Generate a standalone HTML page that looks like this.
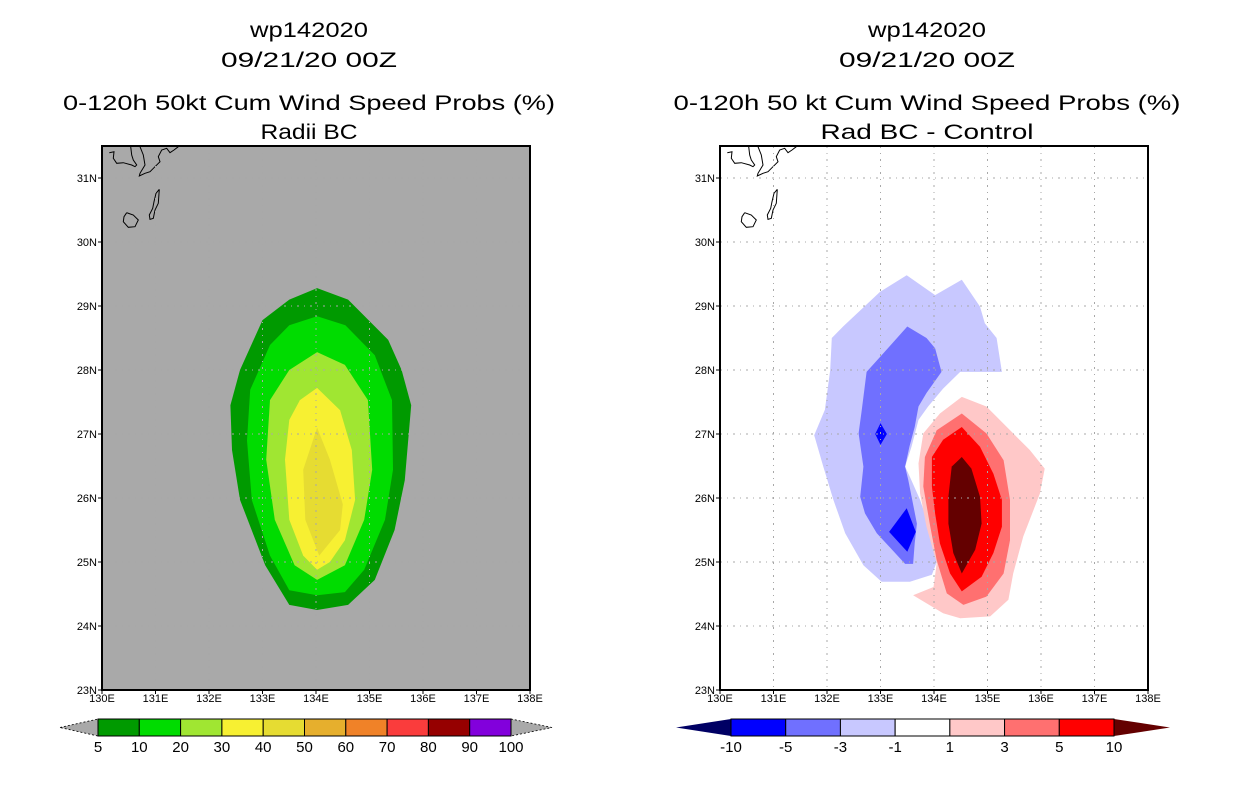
<!DOCTYPE html>
<html><head><meta charset="utf-8"><style>
html,body{margin:0;padding:0;background:#fff;}
svg{display:block;}
.t{font-family:"Liberation Sans",sans-serif;fill:#000;}
</style></head><body>
<svg id="s" width="1236" height="800" viewBox="0 0 1236 800" xmlns="http://www.w3.org/2000/svg">
<g>
<text class="t" x="309" y="37" font-size="21" text-anchor="middle" textLength="118" lengthAdjust="spacingAndGlyphs">wp142020</text>
<text class="t" x="309" y="67" font-size="21" text-anchor="middle" textLength="176" lengthAdjust="spacingAndGlyphs">09/21/20 00Z</text>
<text class="t" x="309" y="110" font-size="21" text-anchor="middle" textLength="492" lengthAdjust="spacingAndGlyphs">0-120h 50kt Cum Wind Speed Probs (%)</text>
<text class="t" x="309" y="139" font-size="21" text-anchor="middle" textLength="97" lengthAdjust="spacingAndGlyphs">Radii BC</text>
</g>
<g>
<text class="t" x="927" y="37" font-size="21" text-anchor="middle" textLength="118" lengthAdjust="spacingAndGlyphs">wp142020</text>
<text class="t" x="927" y="67" font-size="21" text-anchor="middle" textLength="176" lengthAdjust="spacingAndGlyphs">09/21/20 00Z</text>
<text class="t" x="927" y="110" font-size="21" text-anchor="middle" textLength="507" lengthAdjust="spacingAndGlyphs">0-120h 50 kt Cum Wind Speed Probs (%)</text>
<text class="t" x="927" y="139" font-size="21" text-anchor="middle" textLength="213" lengthAdjust="spacingAndGlyphs">Rad BC - Control</text>
</g>
</svg>
<script>
// axis ticks
const lonTicks=[130,131,132,133,134,135,136,137,138];
const latTicks=[23,24,25,26,27,28,29,30,31];
// left panel contour bands (lon,lat)
const p5=[[134.02,29.28],[134.6,29.1],[135.35,28.47],[135.6,28],[135.78,27.45],[135.66,26.28],[135.47,25.5],[135.1,24.72],[134.6,24.33],[134.02,24.25],[133.5,24.33],[133.05,24.95],[132.58,25.97],[132.43,26.75],[132.4,27.45],[132.58,28],[133,28.78],[133.5,29.1]];
const p10=[[134.02,28.84],[134.55,28.7],[135.1,28.23],[135.42,27.53],[135.44,26.44],[135.29,25.66],[134.9,24.88],[134.54,24.53],[134.02,24.48],[133.5,24.56],[133.14,25.1],[132.8,25.97],[132.71,26.9],[132.77,27.69],[133.14,28.39],[133.5,28.7]];
const p20=[[134.02,28.28],[134.54,28.08],[134.97,27.53],[135.05,26.44],[134.9,25.66],[134.54,24.95],[134.02,24.72],[133.6,24.95],[133.23,25.66],[133.07,26.6],[133.14,27.53],[133.5,28]];
const p30=[[134.02,27.72],[134.45,27.37],[134.67,26.75],[134.73,25.97],[134.54,25.34],[134.26,25],[134.02,24.88],[133.76,25.1],[133.5,25.66],[133.42,26.6],[133.5,27.22],[133.7,27.53]];
const p40=[[134.02,27.1],[134.26,26.6],[134.5,25.9],[134.45,25.5],[134.06,25.1],[133.8,25.66],[133.76,26.44]];
// right panel difference bands (lon,lat)
const nm1=[[133.49,29.48],[134.02,29.17],[134.52,29.41],[134.86,28.99],[134.95,28.73],[135.17,28.5],[135.27,27.97],[134.49,27.97],[134.17,27.71],[133.89,27.43],[133.71,27.22],[133.58,26.8],[133.46,26.49],[133.55,26.33],[133.74,25.97],[133.89,25.6],[133.99,25.34],[134.05,25.0],[133.96,24.8],[133.55,24.69],[133.02,24.69],[132.68,24.95],[132.34,25.45],[132.12,25.97],[131.93,26.49],[131.76,26.98],[131.96,27.38],[132.06,28.0],[132.09,28.5],[132.3,28.68],[132.99,29.22]];
const nm3=[[133.5,28.68],[133.86,28.5],[134.02,28.34],[134.14,27.97],[133.86,27.64],[133.71,27.43],[133.64,27.11],[133.54,26.8],[133.46,26.49],[133.52,26.28],[133.68,25.6],[133.64,25.29],[133.61,24.97],[133.46,24.97],[132.93,25.45],[132.71,25.76],[132.62,26.02],[132.68,26.49],[132.59,27.01],[132.65,27.38],[132.74,27.97],[133.02,28.23]];
const nm5a=[[133,27.17],[133.12,27],[133,26.83],[132.9,27]];
const nm5b=[[133.49,25.84],[133.66,25.47],[133.5,25.16],[133.16,25.47]];
const pp1=[[134.52,27.58],[134.98,27.43],[135.48,27.01],[135.79,26.75],[136.07,26.46],[135.98,26.07],[135.67,25.4],[135.48,24.82],[135.39,24.41],[135.05,24.15],[134.49,24.12],[134.17,24.2],[133.61,24.48],[133.99,24.61],[134.05,24.98],[133.86,25.55],[133.74,26.07],[133.71,26.54],[133.8,27.01],[134.11,27.32]];
const pp3=[[134.52,27.32],[134.98,27.01],[135.3,26.59],[135.42,25.97],[135.42,25.34],[135.3,24.82],[134.98,24.46],[134.55,24.33],[134.24,24.51],[134.05,25.03],[133.93,25.55],[133.8,26.18],[133.83,26.64],[134.05,27.06]];
const pp5=[[134.52,27.11],[134.86,26.8],[135.11,26.38],[135.27,25.97],[135.27,25.55],[135.11,25.14],[134.89,24.77],[134.52,24.54],[134.3,24.82],[134.11,25.29],[134.02,25.76],[133.96,26.18],[133.96,26.64],[134.17,26.91]];
const pp10=[[134.52,26.64],[134.7,26.46],[134.86,26.02],[134.89,25.6],[134.77,25.19],[134.52,24.82],[134.36,25.14],[134.27,25.6],[134.27,26.02],[134.33,26.49]];
// colorbars
const leftLevels=["5","10","20","30","40","50","60","70","80","90","100"];
const leftColors=["#009a00","#00dc00","#a0e632","#f7f032","#e6dc32","#e6af2d","#f08228","#fa3c3c","#960000","#8200dc"];
const rightLevels=["-10","-5","-3","-1","1","3","5","10"];
const rightColors=["#0000ff","#7070ff","#c8c8ff","#ffffff","#ffc8c8","#ff7070","#ff0000"];

const NS='http://www.w3.org/2000/svg';
const svg=document.getElementById('s');
function mk(tag,attrs,parent){const e=document.createElementNS(NS,tag);for(const k in attrs)e.setAttribute(k,attrs[k]);(parent||svg).appendChild(e);return e;}
// coastline decoration, pixel offsets from plot top-left
const coast=[[[7.3,6.7],[12,5.7],[11.3,12.3],[14.7,17.3],[21.3,16.7],[29.7,19],[33,20.7],[34.7,19],[31.3,14],[29.7,9],[28.7,0.7]],
[[38,0.7],[41.3,9],[43,19],[38,27.3],[37.3,30],[43,27.3],[48,25.7],[53,20.7],[58,15.7],[56.3,10.7],[59.7,4],[64.7,2.3],[68,6.7],[72,4],[76.3,0.7]],
[[57.3,43.3],[56.3,57.3],[53,64],[51.3,72.3],[48,73.3],[47.3,69],[50.7,62.3],[52,55.7],[54,47.3],[57.3,43.3]],
[[24.7,66.7],[31.3,69],[36.3,74],[33,80.7],[26.3,81.3],[21.3,75.7],[22,70.7],[24.7,66.7]]];

function panel(x0,bg,bands,name){
  const W=428,y0=146,y1=690;
  const sx=lon=>x0+(lon-130)*W/8;
  const sy=lat=>y1-(lat-23)*64;
  const g=mk('g',{});
  
  
  const r=mk('rect',{x:x0,y:y0,width:W,height:y1-y0,fill:bg},g);
  
  
  bands.forEach(b=>{
    const p=mk('polygon',{points:b.pts.map(q=>sx(q[0]).toFixed(1)+','+sy(q[1]).toFixed(1)).join(' '),fill:b.c},g);
    
    
  });
  coast.forEach(c=>{
    const l=mk('polyline',{points:c.map(q=>(x0+q[0])+','+(y0+q[1])).join(' '),fill:'none',stroke:'#000','stroke-width':1},g);
    
    
  });
  lonTicks.slice(1,-1).forEach(v=>{
    const l=mk('line',{x1:sx(v),x2:sx(v),y1:y0,y2:y1,stroke:'#a8a8a8','stroke-width':1,'stroke-dasharray':'2,5,1,5'},g);
    
    
  });
  latTicks.slice(1).forEach(v=>{
    const l=mk('line',{x1:x0,x2:x0+W,y1:sy(v),y2:sy(v),stroke:'#a8a8a8','stroke-width':1,'stroke-dasharray':'2,5,1,5'},g);
    
    
  });
  const f=mk('rect',{x:x0,y:y0,width:W,height:y1-y0,fill:'none',stroke:'#000','stroke-width':2},g);
  
  
  lonTicks.forEach(v=>{
    mk('line',{x1:sx(v),x2:sx(v),y1:y1,y2:y1+4,stroke:'#000'},g);
    const t=mk('text',{x:sx(v),y:y1+12,'font-size':11,'text-anchor':'middle',class:'t'},g);
    t.textContent=v+'E';
    
    
  });
  latTicks.forEach(v=>{
    mk('line',{x1:x0-4,x2:x0,y1:sy(v),y2:sy(v),stroke:'#000'},g);
    const t=mk('text',{x:x0-5,y:sy(v)+4,'font-size':11,'text-anchor':'end',class:'t'},g);
    t.textContent=v+'N';
    
    
  });
}
panel(102,'#a9a9a9',[{pts:p5,c:'#009a00',n:'band-5-10'},{pts:p10,c:'#00dc00',n:'band-10-20'},{pts:p20,c:'#a0e632',n:'band-20-30'},{pts:p30,c:'#f7f032',n:'band-30-40'},{pts:p40,c:'#e6dc32',n:'band-40-50'}],'left-map-panel');
panel(720,'#ffffff',[{pts:nm1,c:'#c8c8ff',n:'band-neg1-neg3'},{pts:nm3,c:'#7070ff',n:'band-neg3-neg5'},{pts:nm5a,c:'#0000ff',n:'band-neg5-neg10-a'},{pts:nm5b,c:'#0000ff',n:'band-neg5-neg10-b'},{pts:pp1,c:'#ffc8c8',n:'band-1-3'},{pts:pp3,c:'#ff7070',n:'band-3-5'},{pts:pp5,c:'#ff0000',n:'band-5-10'},{pts:pp10,c:'#640000',n:'band-gt10'}],'right-map-panel');

function colorbar(xa,xb,tipL,tipR,cL,cR,colors,levels,name,dash){
  const y0=719,y1=736,ym=727.5;
  const g=mk('g',{});
  
  
  const w=(xb-xa)/colors.length;
  const tl=mk('polygon',{points:`${tipL},${ym} ${xa},${y0} ${xa},${y1}`,fill:cL,stroke:dash?'#000':cL,'stroke-width':dash?0.8:0,'stroke-dasharray':dash?'2,2':'none'},g);
  
  
  const tr=mk('polygon',{points:`${tipR},${ym} ${xb},${y0} ${xb},${y1}`,fill:cR,stroke:dash?'#000':cR,'stroke-width':dash?0.8:0,'stroke-dasharray':dash?'2,2':'none'},g);
  
  
  colors.forEach((c,i)=>{
    const r=mk('rect',{x:xa+i*w,y:y0,width:w,height:y1-y0,fill:c,stroke:'#000','stroke-width':1},g);
    
    
  });
  levels.forEach((l,i)=>{
    const t=mk('text',{x:xa+i*w,y:752,'font-size':15,'text-anchor':'middle',class:'t'},g);
    t.textContent=l;
    
    
  });
}
colorbar(98,511,60,552,'#a9a9a9','#a9a9a9',leftColors,leftLevels,'left-colorbar',true);
colorbar(731,1114,676,1170,'#000064','#640000',rightColors,rightLevels,'right-colorbar',false);
</script>
</body></html>
